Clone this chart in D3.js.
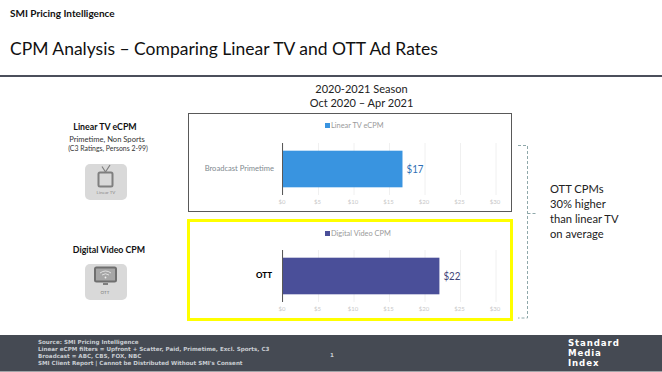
<!DOCTYPE html>
<html>
<head>
<meta charset="utf-8">
<script src="https://cdn.jsdelivr.net/npm/d3@7"></script>
<style>
html, body { margin: 0; padding: 0; background: #fff; }
svg { display: block; }
text { font-family: Lato, "Open Sans", sans-serif; }
</style>
</head>
<body>
<svg id="chart" width="662" height="372"></svg>
<script>
const width = 662
const height = 372

// chart values
const linearCategories = ["Broadcast Primetime"]
const linearValues = [16.9]
const linearLabels = ["$17"]
const ottCategories = ["OTT"]
const ottValues = [22.1]
const ottLabels = ["$22"]
const tickValues = [0, 5, 10, 15, 20, 25, 30]

const footerLines = [
	"Source: SMI Pricing Intelligence",
	"Linear eCPM filters = Upfront + Scatter, Paid, Primetime, Excl. Sports, C3",
	"Broadcast = ABC, CBS, FOX, NBC",
	"SMI Client Report | Cannot be Distributed Without SMI's Consent"
]
const calloutLines = ["OTT CPMs", "30% higher", "than linear TV", "on average"]
const logoLines = ["Standard", "Media", "Index"]

const svg = d3.select("#chart")

function addText(x, y, str, size, color, opts = {}){
	return svg.append("text")
		.attr("x", x)
		.attr("y", y)
		.attr("text-anchor", opts.anchor || "start")
		.style("font-size", size + "px")
		.style("font-weight", opts.weight || 400)
		.style("font-family", opts.family || null)
		.style("letter-spacing", opts.spacing || null)
		.style("fill", color)
		.text(str)
}

// header
addText(10, 17, "SMI Pricing Intelligence", 10, "#111", {weight: 700})
addText(10, 55, "CPM Analysis – Comparing Linear TV and OTT Ad Rates", 17.5, "#111")
svg.append("rect").attr("x", 0).attr("y", 75).attr("width", width).attr("height", 2).style("fill", "#4b4f5b")
addText(361.5, 93, "2020-2021 Season", 11, "#222", {anchor: "middle"})
addText(361.5, 107, "Oct 2020 – Apr 2021", 11, "#222", {anchor: "middle"})

// both panels share one value scale
const xScale = d3.scaleLinear().domain([0, 30]).range([282.5, 495.5])

function drawPanel(p){
	svg.append("rect")
		.attr("x", p.box[0]).attr("y", p.box[1])
		.attr("width", p.box[2]).attr("height", p.box[3])
		.style("fill", "#fff")
		.style("stroke", p.stroke)
		.style("stroke-width", p.strokeWidth)

	const yScale = d3.scaleBand().domain(p.categories).range(p.yRange).paddingInner(0).paddingOuter(0.21)

	const xAxis = d3.axisBottom(xScale)
		.tickValues(tickValues)
		.tickFormat(d => "$" + d)
		.tickSize(p.yRange[0] - p.yRange[1])
		.tickPadding(5)

	const axisG = svg.append("g")
		.attr("transform", `translate(0, ${p.yRange[1]})`)
		.call(xAxis)
	axisG.select(".domain").remove()
	axisG.selectAll("line").style("stroke", "#f0f0f0")
	axisG.selectAll("text")
		.attr("dx", -1)
		.style("font-size", "6px")
		.style("fill", "#c8c8c8")

	svg.selectAll(null)
		.data(p.values)
		.enter().append("rect")
		.attr("x", xScale(0))
		.attr("y", (d, i) => yScale(p.categories[i]))
		.attr("width", d => xScale(d) - xScale(0))
		.attr("height", yScale.bandwidth())
		.style("fill", p.color)

	svg.append("line")
		.attr("x1", xScale(0)).attr("x2", xScale(0))
		.attr("y1", p.yRange[1]).attr("y2", p.yRange[0])
		.style("stroke", "#595959")
		.style("stroke-width", 1)

	svg.selectAll(null)
		.data(p.values)
		.enter().append("text")
		.attr("x", d => xScale(d) + 4)
		.attr("y", (d, i) => yScale(p.categories[i]) + yScale.bandwidth() / 2 + 4)
		.attr("textLength", 17)
		.attr("lengthAdjust", "spacingAndGlyphs")
		.style("font-size", "12px")
		.style("fill", p.labelColor)
		.text((d, i) => p.labels[i])

	svg.selectAll(null)
		.data(p.categories)
		.enter().append("text")
		.attr("x", p.catX)
		.attr("y", d => yScale(d) + yScale.bandwidth() / 2 + 2)
		.attr("text-anchor", "end")
		.style("font-size", p.catSize + "px")
		.style("font-weight", p.catWeight)
		.style("fill", p.catColor)
		.text(d => d)

	// legend
	svg.append("rect")
		.attr("x", 325).attr("y", p.legendY - 4).attr("width", 5).attr("height", 5)
		.style("fill", p.color)
	addText(331, p.legendY + 1, p.name, 7.4, "#9a9a9a")
}

drawPanel({
	name: "Linear TV eCPM", categories: linearCategories, values: linearValues, labels: linearLabels,
	box: [188.5, 113.5, 323, 98], stroke: "#595959", strokeWidth: 1,
	yRange: [195, 143], color: "#3994e0", labelColor: "#2f6fb5",
	legendY: 127, catX: 274, catSize: 7.6, catWeight: 400, catColor: "#7f8a90"
})
drawPanel({
	name: "Digital Video CPM", categories: ottCategories, values: ottValues, labels: ottLabels,
	box: [188.5, 220.5, 323, 99], stroke: "#ffff00", strokeWidth: 3,
	yRange: [302, 250], color: "#4a4f99", labelColor: "#3f4578",
	legendY: 235, catX: 272, catSize: 8, catWeight: 900, catColor: "#000"
})

// left side labels
addText(105, 130, "Linear TV eCPM", 8.8, "#111", {anchor: "middle", weight: 700})
addText(107, 142, "Primetime, Non Sports", 7.6, "#333", {anchor: "middle"})
addText(108, 151, "(C3 Ratings, Persons 2-99)", 6.9, "#333", {anchor: "middle"})
addText(109, 253, "Digital Video CPM", 8.8, "#111", {anchor: "middle", weight: 700})

// icons
function iconBox(x, y){
	svg.append("rect").attr("x", x).attr("y", y).attr("width", 42).attr("height", 36).attr("rx", 5).style("fill", "#d9d9d9")
}
iconBox(85, 164)
svg.append("rect").attr("x", 98.5).attr("y", 172.5).attr("width", 14).attr("height", 14).attr("rx", 1.5)
	.style("fill", "none").style("stroke", "#7f7f7f").style("stroke-width", 2)
svg.append("path").attr("d", "M102 166.5 L105.5 172 L110 165").style("fill", "none").style("stroke", "#7f7f7f").style("stroke-width", 1.2)
addText(106, 194, "Linear TV", 4.5, "#8a8a8a", {anchor: "middle"})

iconBox(85, 264)
svg.append("rect").attr("x", 95).attr("y", 267.5).attr("width", 21).attr("height", 14).attr("rx", 1.5)
	.style("fill", "#a6a6a6").style("stroke", "#6f6f6f").style("stroke-width", 2)
svg.append("path").attr("d", "M100 273 Q105.5 269 111 273 M102 275 Q105.5 272.5 109 275").style("fill", "none").style("stroke", "#eee").style("stroke-width", 0.8)
svg.append("circle").attr("cx", 105.5).attr("cy", 277.5).attr("r", 0.9).style("fill", "#eee")
svg.append("rect").attr("x", 103).attr("y", 283).attr("width", 5).attr("height", 2).style("fill", "#7f7f7f")
addText(105, 294, "OTT", 4.5, "#777", {anchor: "middle"})

// bracket and callout
svg.append("path")
	.attr("d", "M518 145.5 H527.5 V318 H518 M527.5 213.5 H536")
	.style("fill", "none")
	.style("stroke", "#8fa8aa")
	.style("stroke-dasharray", "3 2")
calloutLines.forEach((s, i) => addText(550, 193 + i * 15, s, 11.2, "#222"))

// footer
svg.append("rect").attr("x", 0).attr("y", 335).attr("width", width).attr("height", 36.5).style("fill", "#454a53")
footerLines.forEach((s, i) => addText(38, 343.5 + i * 7.3, s, 5.6, "#c9cdd2", {family: "'DejaVu Sans'", weight: 700}))
addText(330, 357, "1", 5.6, "#c9cdd2", {family: "'DejaVu Sans'", weight: 700})
logoLines.forEach((s, i) => addText(568, 346 + i * 10, s, 8.6, "#fff", {family: "'DejaVu Sans'", weight: 700, spacing: "0.9px"}))
</script>
</body>
</html>
